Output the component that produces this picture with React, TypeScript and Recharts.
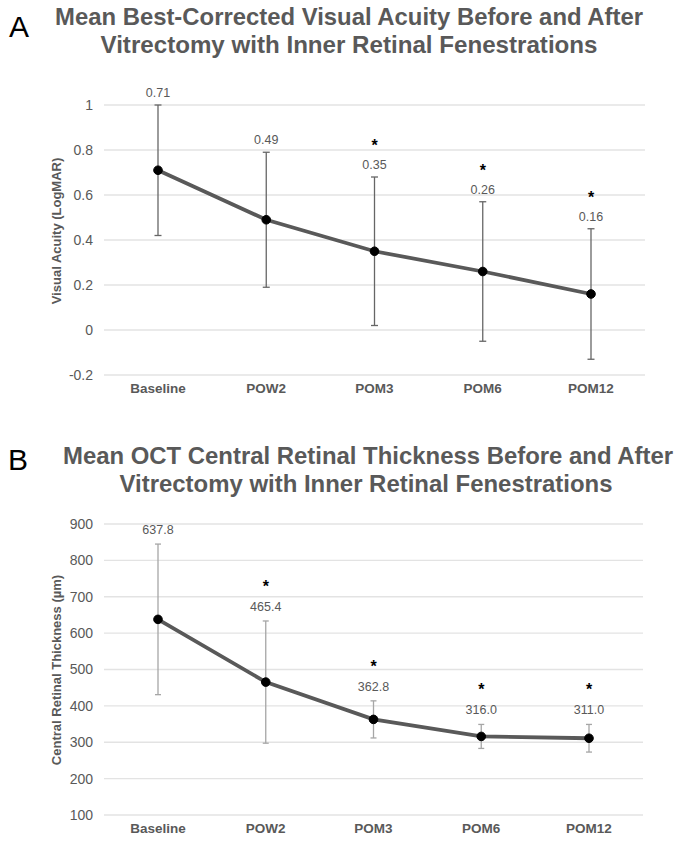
import React from 'react';
import { LineChart, Line, XAxis, YAxis, CartesianGrid, ErrorBar, LabelList } from 'recharts';

const FONT = '"Liberation Sans", Arial, sans-serif';

const timepoints = ['Baseline', 'POW2', 'POM3', 'POM6', 'POM12'];

// panel A - best-corrected visual acuity (logMAR)
const acuityMean = [0.71, 0.49, 0.35, 0.26, 0.16];
const acuitySd = [0.29, 0.3, 0.33, 0.31, 0.29];
const acuitySignificant = [false, false, true, true, true];
const acuityTicks = [-0.2, 0, 0.2, 0.4, 0.6, 0.8, 1];

// panel B - OCT central retinal thickness (um)
const thicknessMean = [637.8, 465.4, 362.8, 316.0, 311.0];
const thicknessSd = [207, 168, 51, 33, 38];
const thicknessSignificant = [false, true, true, true, true];
const thicknessTicks = [100, 200, 300, 400, 500, 600, 700, 800, 900];

const buildRows = (mean: number[], sd: number[], sig: boolean[], digits: number) =>
    timepoints.map((name, i) => ({
        name,
        mean: mean[i],
        sd: sd[i],
        top: mean[i] + sd[i],
        label: mean[i].toFixed(digits),
        star: sig[i] ? '*' : '',
    }));

const acuityRows = buildRows(acuityMean, acuitySd, acuitySignificant, 2);
const thicknessRows = buildRows(thicknessMean, thicknessSd, thicknessSignificant, 1);

interface PanelProps {
    rows: ReturnType<typeof buildRows>;
    ticks: number[];
    top: number;
    height: number;
    plotTop: number;
    right: number;
    xAxisHeight: number;
    errColor: string;
    capWidth: number;
    labelOffset: number;
    starOffset: number;
}

const Panel: React.FC<PanelProps> = ({ rows, ticks, top, height, plotTop, right, xAxisHeight, errColor, capWidth, labelOffset, starOffset }) => (
    <div style={{ position: 'absolute', left: 0, top }}>
        <LineChart width={685} height={height} data={rows} margin={{ top: plotTop, right, left: 0, bottom: 0 }}>
            <CartesianGrid vertical={false} stroke="#e3e3e3" strokeWidth={1.3} />
            <XAxis
                dataKey="name"
                axisLine={false}
                tickLine={false}
                interval={0}
                height={xAxisHeight}
                padding={{ left: 54, right: 54 }}
                tick={{ fill: '#595959', fontSize: 13.5, fontWeight: 'bold', fontFamily: FONT }}
            />
            <YAxis
                type="number"
                domain={[ticks[0], ticks[ticks.length - 1]]}
                ticks={ticks}
                interval={0}
                allowDataOverflow
                axisLine={false}
                tickLine={false}
                width={104}
                tickMargin={5}
                tick={{ fill: '#595959', fontSize: 14, fontFamily: FONT }}
            />
            <Line dataKey="top" stroke="none" dot={false} activeDot={false} isAnimationActive={false}>
                <LabelList dataKey="label" position="top" offset={labelOffset} fill="#595959" fontSize={12.5} fontFamily={FONT} />
                <LabelList dataKey="star" position="top" offset={starOffset} fill="#000" fontSize={16} fontWeight="bold" fontFamily={FONT} />
            </Line>
            <Line
                dataKey="mean"
                stroke="#595959"
                strokeWidth={3.8}
                dot={{ r: 4.3, fill: '#000', stroke: '#000', strokeWidth: 1 }}
                isAnimationActive={false}
            >
                <ErrorBar dataKey="sd" direction="y" width={capWidth} stroke={errColor} strokeWidth={1.3} />
            </Line>
        </LineChart>
    </div>
);

const titleStyle = { fill: '#595959', fontSize: 24, fontWeight: 'bold' as const, fontFamily: FONT };
const axisLabelStyle = { fill: '#595959', fontSize: 13, fontWeight: 'bold' as const, fontFamily: FONT };

const App: React.FC = () => (
    <div style={{ position: 'absolute', left: 0, top: 0, width: 685, height: 842, overflow: 'hidden', background: '#fff' }}>
        <Panel
            rows={acuityRows}
            ticks={acuityTicks}
            top={0}
            height={420}
            plotTop={105}
            right={40}
            xAxisHeight={45}
            errColor="#666666"
            capWidth={3.5}
            labelOffset={8}
            starOffset={26}
        />
        <Panel
            rows={thicknessRows}
            ticks={thicknessTicks}
            top={430}
            height={412}
            plotTop={94}
            right={42}
            xAxisHeight={27}
            errColor="#a6a6a6"
            capWidth={3}
            labelOffset={10}
            starOffset={29}
        />
        <svg width={685} height={842} style={{ position: 'absolute', left: 0, top: 0, pointerEvents: 'none' }}>
            <text x={9} y={37} fontSize={30} fontFamily={FONT} fill="#000">A</text>
            <text x={349} y={25} textAnchor="middle" textLength={588} lengthAdjust="spacingAndGlyphs" style={titleStyle}>
                Mean Best-Corrected Visual Acuity Before and After
            </text>
            <text x={349} y={53} textAnchor="middle" textLength={497} lengthAdjust="spacingAndGlyphs" style={titleStyle}>
                Vitrectomy with Inner Retinal Fenestrations
            </text>
            <text x={56} y={231} textAnchor="middle" dominantBaseline="central" transform="rotate(-90 56 231)" style={axisLabelStyle}>
                Visual Acuity (LogMAR)
            </text>

            <text x={8} y={470} fontSize={30} fontFamily={FONT} fill="#000">B</text>
            <text x={368} y={464} textAnchor="middle" textLength={610} lengthAdjust="spacingAndGlyphs" style={titleStyle}>
                Mean OCT Central Retinal Thickness Before and After
            </text>
            <text x={366} y={492} textAnchor="middle" textLength={493} lengthAdjust="spacingAndGlyphs" style={titleStyle}>
                Vitrectomy with Inner Retinal Fenestrations
            </text>
            <text x={56} y={670} textAnchor="middle" dominantBaseline="central" transform="rotate(-90 56 670)" style={axisLabelStyle}>
                Central Retinal Thickness (µm)
            </text>
        </svg>
    </div>
);

export default App;
